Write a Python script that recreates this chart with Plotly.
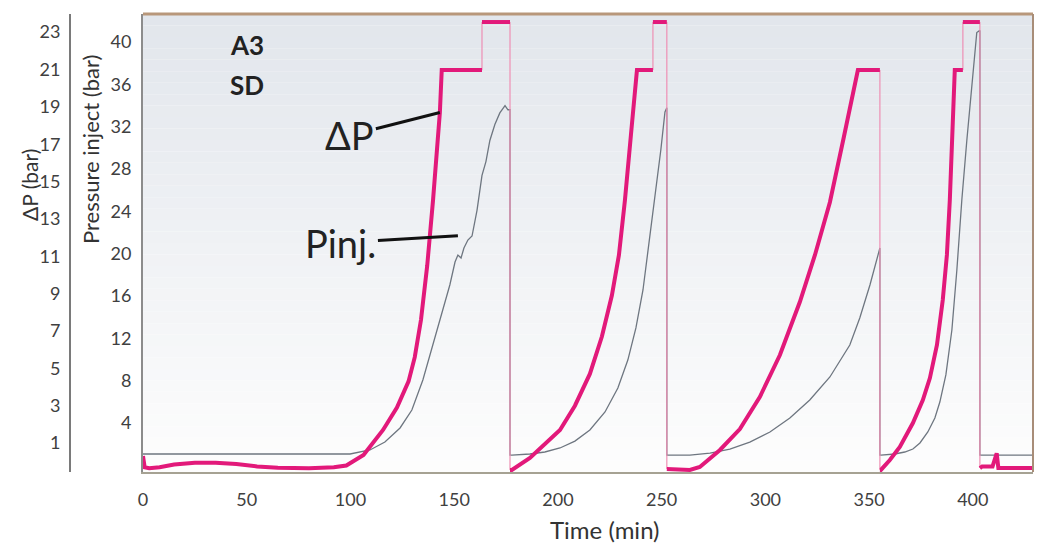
import plotly.graph_objects as go

# ---------------- data ----------------
# Differential pressure ΔP (bar) vs time (min)
dp_time = [0, 0.8, 3, 8, 15, 25, 35, 45, 55, 65, 80, 92, 98, 106.3, 115.7, 122.4, 128, 131, 134, 137,
           139.8, 142, 143.1, 144, 163.4, 163.4, 176.9, 176.9,
           177.8, 186.5, 193.7, 201.0, 208.2, 215.4, 221.2, 226.0, 229.4, 232.3, 235.2, 238.1, 245.8, 245.8,
           252.5, 252.5,
           253.5, 258.8, 263.6, 268.4, 278.1, 287.7, 297.3, 307.0, 316.6, 323.9, 331.1, 337.8, 344.6, 355.2,
           355.2,
           355.7, 360.0, 364.8, 371.1, 375.9, 379.3, 382.7, 385.5, 387.5, 388.9, 390.4, 391.3, 395.2, 395.2,
           403.4, 403.4,
           404.5, 409.5, 411.5, 412.3, 429]
dp_value = [0.3, -0.3, -0.35, -0.3, -0.15, -0.05, -0.05, -0.12, -0.25, -0.32, -0.35, -0.3, -0.2, 0.36, 1.7, 2.9, 4.3, 5.6, 7.6, 10.5,
            14.0, 17.3, 18.7, 20.97, 20.97, 23.54, 23.54, -0.44,
            -0.44, 0.20, 0.95, 1.7, 3.0, 4.7, 6.7, 8.9, 11.06, 14.0, 17.5, 20.97, 20.97, 23.54,
            23.54, -0.39,
            -0.39, -0.44, -0.44, -0.28, 0.63, 1.75, 3.46, 5.71, 8.55, 11.07, 13.89, 17.37, 20.97, 20.97,
            -0.44,
            -0.44, 0.09, 0.79, 2.07, 3.30, 4.48, 6.25, 8.66, 11.07, 14.0, 17.75, 20.97, 20.97, 23.54,
            23.54, -0.34,
            -0.25, -0.25, 0.45, -0.34, -0.34]

# Injection pressure Pinj (bar) vs time (min)
pinj_time = [0, 99.8, 109.4, 116.6, 123.9, 129.6, 134.9, 138.3, 143.1, 147.9, 150.4, 151.8, 153.3, 154.7,
             156.6, 158.6, 161.0, 163.4, 165.3, 167.2, 169.6, 172.0, 174.5, 175.9, 176.9, 176.9,
             177.8, 186.5, 193.7, 201.0, 208.2, 215.4, 222.7, 228.9, 233.7, 237.6, 241.0, 244.3, 247.2,
             249.6, 251.6, 252.5, 252.5,
             253.5, 263.6, 273.3, 282.9, 292.5, 302.2, 311.8, 321.4, 331.1, 340.7, 345.5, 350.4, 355.2,
             355.2,
             355.7, 362.4, 367.2, 371.1, 374.5, 378.3, 381.7, 384.1, 387.0, 389.9, 392.3, 394.7, 397.1,
             399.5, 401.9, 403.4, 403.4, 429]
pinj_value = [1.07, 1.07, 1.45, 2.2, 3.53, 5.23, 8.06, 10.43, 13.54, 17.04, 19.21, 19.87, 19.59, 20.54,
              21.29, 21.67, 24.1, 27.4, 28.7, 30.7, 32.2, 33.3, 34.0, 33.6, 33.6, 0.97,
              0.97, 1.07, 1.26, 1.64, 2.29, 3.34, 5.04, 7.31, 9.95, 12.98, 16.57, 21.5, 26.0,
              29.8, 33.4, 33.8, 0.97,
              0.97, 0.97, 1.16, 1.54, 2.2, 3.15, 4.47, 6.17, 8.35, 11.37, 13.92, 17.04, 20.54,
              0.97,
              0.97, 1.07, 1.26, 1.54, 2.11, 3.15, 4.47, 5.98, 8.54, 12.79, 18.46, 25.1, 30.7,
              35.9, 40.9, 41.1, 0.97, 0.97]

time_ticks = [0, 50, 100, 150, 200, 250, 300, 350, 400]
dp_ticks = [1, 3, 5, 7, 9, 11, 13, 15, 17, 19, 21, 23]
pinj_ticks = [4, 8, 12, 16, 20, 24, 28, 32, 36, 40]

# ---------------- layout helpers ----------------
W, H = 1044, 549
PL, PR, PT, PB = 143, 1033, 14, 472       # plot area in pixels
FONT = "Lato"
PINK = "#e2197a"
GRAY = "#6e7680"


def split_jumps(ts, vs, max_dt=0.05, min_dv=1.0):
    """Separate vertical jumps (drawn thin) from the continuous parts (drawn thick)."""
    tx, ty, jx, jy = [], [], [], []
    for i in range(len(ts)):
        if i > 0 and abs(ts[i] - ts[i - 1]) < max_dt and abs(vs[i] - vs[i - 1]) > min_dv:
            tx.append(None); ty.append(None)
            jx += [ts[i - 1], ts[i], None]; jy += [vs[i - 1], vs[i], None]
        tx.append(ts[i]); ty.append(vs[i])
    return tx, ty, jx, jy


dp_tx, dp_ty, dp_jx, dp_jy = split_jumps(dp_time, dp_value)

fig = go.Figure()
fig.add_trace(go.Scatter(x=pinj_time, y=pinj_value, mode="lines", yaxis="y",
                         line=dict(color=GRAY, width=1.3), showlegend=False))
fig.add_trace(go.Scatter(x=dp_jx, y=dp_jy, mode="lines", yaxis="y2",
                         line=dict(color="#ee8fb4", width=1.2), showlegend=False))
fig.add_trace(go.Scatter(x=dp_tx, y=dp_ty, mode="lines", yaxis="y2",
                         line=dict(color=PINK, width=4), showlegend=False))

# background gradient (light grey at top to white at bottom)
shapes = []
n = 40
top_c, bot_c = (226, 230, 236), (253, 253, 253)
for i in range(n):
    f = i / (n - 1)
    c = tuple(round(bot_c[k] + (top_c[k] - bot_c[k]) * f) for k in range(3))
    shapes.append(dict(type="rect", xref="x domain", yref="y domain", x0=0, x1=1,
                       y0=i / n, y1=(i + 1) / n, fillcolor="rgb(%d,%d,%d)" % c,
                       line=dict(width=0), layer="below"))
# frame: brown top and right borders
shapes.append(dict(type="line", xref="x domain", yref="y domain", x0=0, x1=1, y0=1, y1=1,
                   line=dict(color="#b8977a", width=3)))
shapes.append(dict(type="line", xref="x domain", yref="y domain", x0=1, x1=1, y0=0, y1=1,
                   line=dict(color="#a88d78", width=2)))

ph = PB - PT


def py(pix):
    return (PB - pix) / ph


def txt(text, xpix, ypix, size, angle=0, color="#222"):
    return dict(text=text, x=xpix / W, y=py(ypix), xref="paper", yref="paper", showarrow=False,
                xanchor="center", yanchor="middle", textangle=angle,
                font=dict(family=FONT, size=size, color=color))


annotations = [
    txt("<b>A3</b>", 247, 45, 26),
    txt("<b>SD</b>", 247, 85, 26),
    dict(text="ΔP", x=143.1, y=18.7, xref="x", yref="y2", ax=-90, ay=23, axref="pixel", ayref="pixel",
         showarrow=True, arrowhead=0, arrowwidth=3, arrowcolor="#111", standoff=0,
         font=dict(family=FONT, size=38, color="#222")),
    dict(text="Pinj.", x=151.8, y=21.7, xref="x", yref="y", ax=-117, ay=7, axref="pixel", ayref="pixel",
         showarrow=True, arrowhead=0, arrowwidth=3, arrowcolor="#111", standoff=0,
         font=dict(family=FONT, size=38, color="#222")),
    txt("ΔP (bar)", 29, 185, 21, angle=-90, color="#333"),
    txt("Pressure inject (bar)", 90, 150, 22, angle=-90, color="#333"),
    txt("Time (min)", 605, 529, 24, color="#333"),
]

tickfont = dict(family=FONT, size=18, color="#404040")

fig.update_layout(
    width=W, height=H,
    margin=dict(l=0, r=0, t=PT, b=H - PB, pad=0),
    paper_bgcolor="white", plot_bgcolor="white",
    showlegend=False,
    shapes=shapes, annotations=annotations,
    xaxis=dict(domain=[PL / W, PR / W], range=[0, 429], tickvals=time_ticks,
               showgrid=False, zeroline=False, showline=True, linecolor="#a6a293", linewidth=2,
               ticks="outside", ticklen=10, tickcolor="rgba(0,0,0,0)", tickfont=tickfont,
               automargin=False),
    yaxis=dict(range=[-0.63, 42.65], tickvals=pinj_ticks, anchor="x", side="left",
               showgrid=False, zeroline=False, showline=True, linecolor="#8c8c8c", linewidth=2,
               ticks="outside", ticklen=6, tickcolor="rgba(0,0,0,0)", tickfont=tickfont,
               automargin=False),
    yaxis2=dict(range=[-0.55, 23.97], tickvals=dp_ticks, overlaying="y", anchor="free",
                position=70 / W, side="left",
                showgrid=False, zeroline=False, showline=True, linecolor="#7a7a7a", linewidth=2,
                ticks="outside", ticklen=5, tickcolor="rgba(0,0,0,0)", tickfont=tickfont,
                automargin=False),
)

fig.write_html("out.html")
